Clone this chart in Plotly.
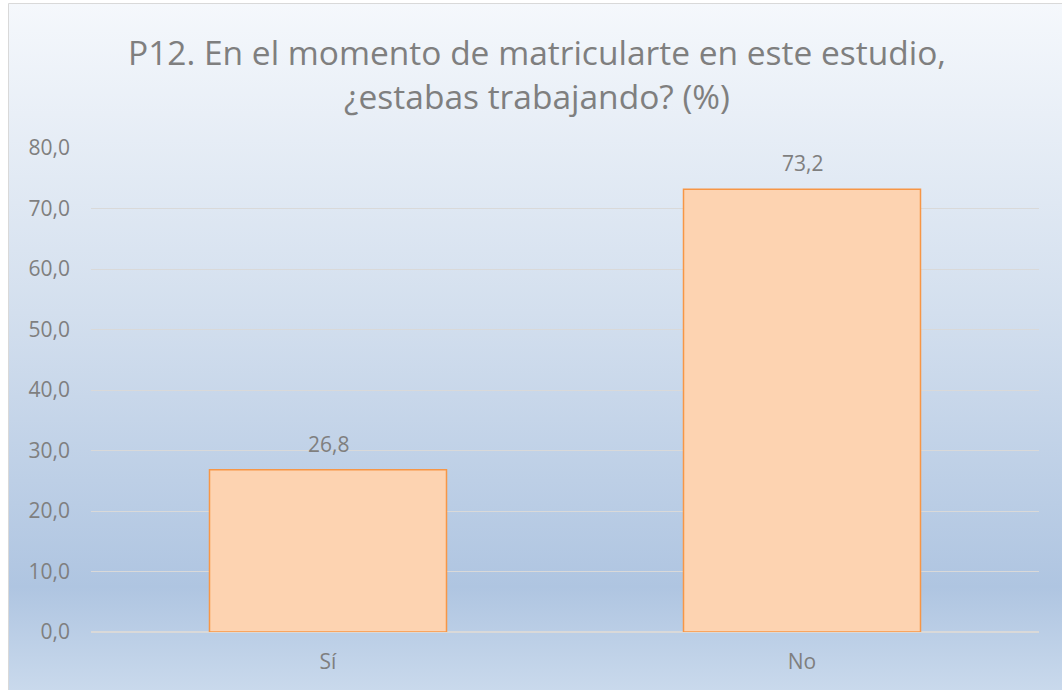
import base64
import plotly.graph_objects as go

categories = ["Sí", "No"]
values = [26.8, 73.2]
y_ticks = [0, 10, 20, 30, 40, 50, 60, 70, 80]
title_text = "P12. En el momento de matricularte en este estudio,<br>¿estabas trabajando? (%)"

W, H = 1062, 690
ML, MR, MT, MB = 91, 23, 148, 58
PW, PH = W - ML - MR, H - MT - MB

bg_svg = (
    '<svg xmlns="http://www.w3.org/2000/svg" width="100" height="100" preserveAspectRatio="none">'
    '<defs><linearGradient id="g" x1="0" y1="0" x2="0" y2="1">'
    '<stop offset="0" stop-color="#f5f8fc"/>'
    '<stop offset="0.45" stop-color="#d3dfee"/>'
    '<stop offset="0.85" stop-color="#afc5e1"/>'
    '<stop offset="1" stop-color="#c9d9ec"/>'
    '</linearGradient></defs>'
    '<rect width="100" height="100" fill="url(#g)"/></svg>'
)
bg_uri = "data:image/svg+xml;base64," + base64.b64encode(bg_svg.encode()).decode()

def px_to_paper_x(px):
    return (px - ML) / PW

def px_to_paper_y(py):
    return 1 - (py - MT) / PH

FONT = "Open Sans"
GREY = "#7f7f7f"

fig = go.Figure()
fig.add_trace(go.Bar(
    x=categories, y=values,
    width=0.5,
    marker=dict(color="#fdd3b1", line=dict(color="#f79646", width=1.5)),
    hoverinfo="x+y",
))

for cat, val in zip(categories, values):
    fig.add_annotation(
        x=cat, y=val, xref="x", yref="y",
        text=f"{val:.1f}".replace(".", ","),
        showarrow=False, yanchor="bottom", yshift=10,
        font=dict(family=FONT, size=21, color=GREY),
    )

fig.add_layout_image(dict(
    source=bg_uri, xref="paper", yref="paper",
    x=px_to_paper_x(9), y=px_to_paper_y(4),
    sizex=px_to_paper_x(W) - px_to_paper_x(9),
    sizey=px_to_paper_y(4) - px_to_paper_y(H),
    sizing="stretch", xanchor="left", yanchor="top", layer="below",
))
fig.add_shape(type="rect", xref="paper", yref="paper",
              x0=px_to_paper_x(8.5), x1=px_to_paper_x(W + 5),
              y0=px_to_paper_y(H + 5), y1=px_to_paper_y(3.5),
              line=dict(color="#d9d9d9", width=1), fillcolor="rgba(0,0,0,0)", layer="below")

fig.update_layout(
    width=W, height=H,
    margin=dict(l=ML, r=MR, t=MT, b=MB),
    paper_bgcolor="white",
    plot_bgcolor="rgba(0,0,0,0)",
    separators=", ",
    showlegend=False,
    title=dict(text=title_text, x=0.5 + 6 / W, xref="container", xanchor="center",
               y=1 - 65 / H, yref="container", yanchor="middle",
               font=dict(family=FONT, size=33.5, color=GREY)),
    font=dict(family=FONT, color=GREY),
)
fig.update_xaxes(
    showgrid=False, showline=False, zeroline=False,
    tickfont=dict(family=FONT, size=21, color=GREY),
    ticklabelstandoff=15,
)
fig.update_yaxes(
    range=[0, 80], tickvals=y_ticks, tickformat=".1f",
    showgrid=True, gridcolor="#d9d9d9", gridwidth=1,
    zeroline=True, zerolinecolor="#d9d9d9", zerolinewidth=1.5,
    showline=False,
    tickfont=dict(family=FONT, size=21, color=GREY),
    ticklabelstandoff=20,
)

fig.write_html("out.html", config={"displayModeBar": False},
               post_script="document.body.style.margin='0';")
